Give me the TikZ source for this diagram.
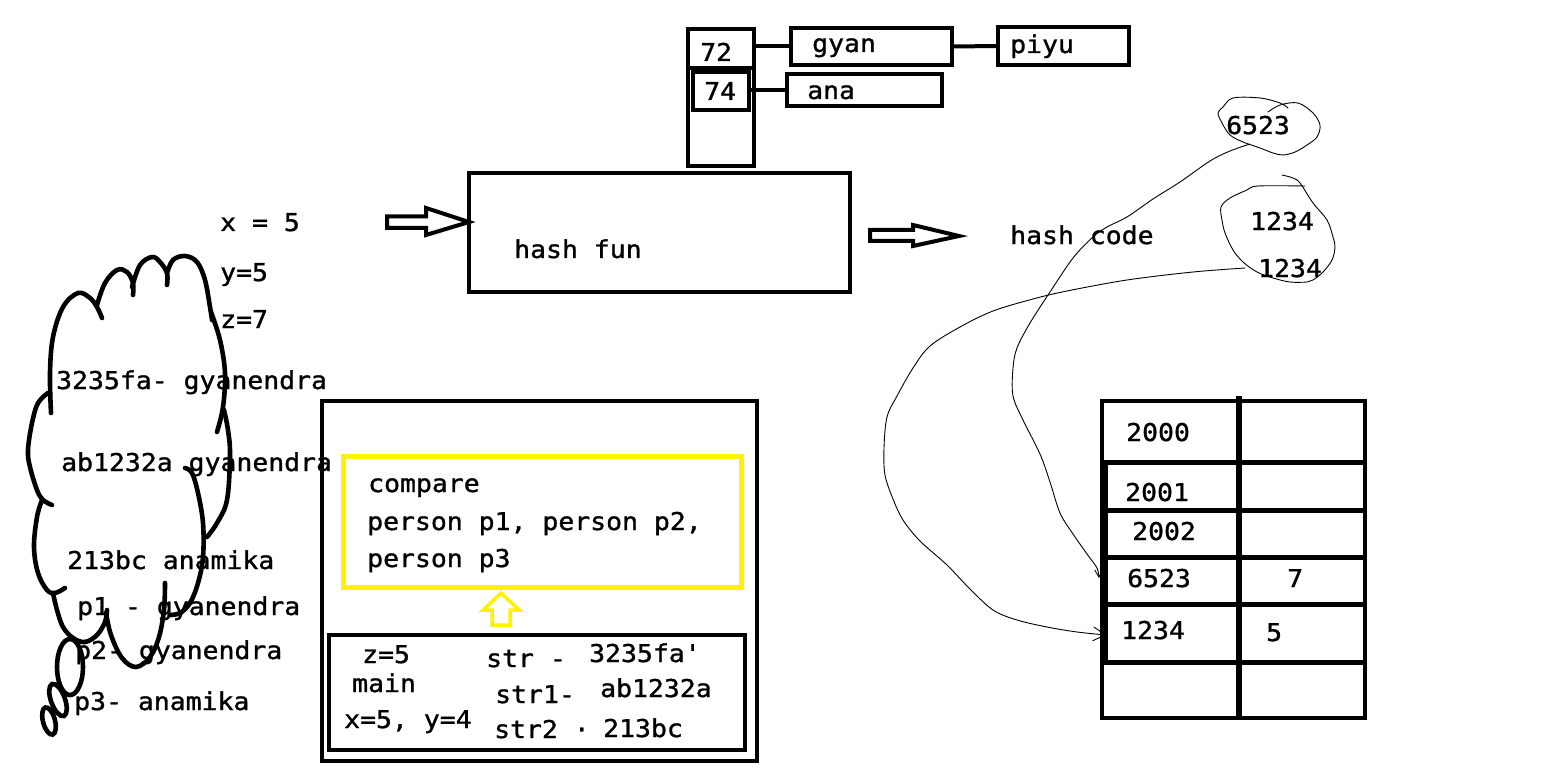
\documentclass[tikz,border=0pt]{standalone}
\usepackage{fontspec}
\newfontfamily\monofont[FakeStretch=1.08,FakeBold=1.2]{DejaVu Sans Mono}
\usetikzlibrary{arrows.meta}
\begin{document}
\begin{tikzpicture}[x=1pt,y=-1pt,
  lbl/.style={anchor=base west, inner sep=0pt, font=\monofont\fontsize{24.5}{28}\selectfont},
  box/.style={draw, line width=4.5pt, inner sep=0pt, outer sep=0pt},
  link/.style={line width=4pt},
  puff/.style={line width=4.6pt, line cap=round, smooth, tension=0.6},
  scrib/.style={line width=0.9pt, line cap=round, line join=round, smooth, tension=0.55},
  hollow/.style={line width=4pt, line join=miter, fill=white},
  grid/.style={line width=5pt}]
\useasboundingbox (0,0) rectangle (1550,778);
\fill[white] (0,0) rectangle (1550,778);

% ---------- top bucket column and chains ----------
\node[box, minimum width=66pt, minimum height=137pt] (col) at (721,97.5) {};
\draw[line width=4pt] (688,68) -- (754,68);
\node[box, minimum width=56pt, minimum height=38pt] (b74) at (721,91) {};
\node[box, minimum width=161pt, minimum height=37pt] (gyan) at (871.5,46.5) {};
\node[box, minimum width=131pt, minimum height=38pt] (piyu) at (1063.5,46) {};
\node[box, minimum width=155pt, minimum height=32pt] (ana) at (864.5,90) {};
\draw[link] (col.east |- gyan.west) -- (gyan.west);
\draw[link] (gyan.east) -- (piyu.west);
\draw[link] (b74.east |- ana.west) -- (ana.west);
\node[lbl] (t72) at (700,61) {72};
\node[lbl] (t74) at (704,100) {74};
\node[lbl] (tgyan) at (812,52) {gyan};
\node[lbl] (tpiyu) at (1010,53) {piyu};
\node[lbl] (tana) at (807,99) {ana};

% ---------- hash function ----------
\node[box, minimum width=381pt, minimum height=119pt] (hf) at (659.5,232.5) {};
\node[lbl] (thf) at (514,258) {hash fun};
\node[lbl] (tx) at (220,231) {x = 5};
\node[lbl] (ty) at (220,281) {y=5};
\node[lbl] (tz) at (220,328) {z=7};
\node[lbl] (tcode) at (1010,244) {hash code};
\draw[hollow] (387,216.5) -- (426,216.5) -- (426,208) -- (469,222) -- (426,235) -- (426,228) -- (387,228) -- cycle;
\draw[hollow] (870,230) -- (913,230) -- (913,225) -- (959,236) -- (913,246) -- (913,241) -- (870,241) -- cycle;

% ---------- thought cloud ----------
\draw[puff] plot coordinates {(51,413) (50,373) (53,337) (63,307) (78,293) (90,298) (97,307) (102,318)};
\draw[puff] plot coordinates {(97,305) (105,283) (117,270) (127,272) (133,283) (133,295)};
\draw[puff] plot coordinates {(132,287) (140,265) (152,257) (160,262) (167,273) (167,285)};
\draw[puff] plot coordinates {(167,273) (173,260) (185,256) (197,262) (205,280) (210,307) (212,320)};
\draw[puff] plot coordinates {(211,312) (220,340) (225,373) (223,407) (217,432)};
\draw[puff] plot coordinates {(224,410) (228,430) (230,455) (227,500) (217,523) (207,537)};
\draw[puff] plot coordinates {(185,468) (192,473) (198,493) (203,523) (203,557) (198,583) (190,603) (180,613) (170,615)};
\draw[puff] plot coordinates {(165,583) (164,610) (159,637) (150,657) (136,667) (122,658) (111,635) (106,613)};
\draw[puff] plot coordinates {(107,610) (105,622) (97,635) (85,642) (73,638) (63,627) (57,610) (53,593)};
\draw[puff] plot coordinates {(42,500) (37,517) (34,547) (38,573) (47,590) (55,593) (65,588)};
\draw[puff] plot coordinates {(48,393) (38,403) (32,423) (28,450) (30,467) (37,490) (43,500) (52,505)};
\draw[line width=4.6pt] (70,667) ellipse [x radius=13, y radius=28];
\draw[line width=4.6pt, rotate around={20:(58,700)}] (58,700) ellipse [x radius=7, y radius=17];
\draw[line width=4.6pt, rotate around={15:(49,721)}] (49,721) ellipse [x radius=6, y radius=14];
\node[lbl] (c1) at (56,389) {3235fa- gyanendra};
\node[lbl] (c2) at (61,471) {ab1232a gyanendra};
\node[lbl] (c3) at (67,569) {213bc anamika};
\node[lbl] (c4) at (77,615) {p1 - gyanendra};
\node[lbl] (c5) at (75,659) {p2- gyanendra};
\node[lbl] (c6) at (74,710) {p3- anamika};

% ---------- stack / compare ----------
\node[box, minimum width=435pt, minimum height=360pt] (outer) at (539.5,581) {};
\node[box, draw=yellow, line width=5pt, minimum width=398pt, minimum height=131pt] (cmp) at (542,521.5) {};
\node[box, minimum width=416pt, minimum height=115pt] (mainbox) at (537,692.5) {};
\draw[line width=3.5pt, yellow, line join=miter] (492,625) -- (492,610) -- (483,610) -- (501,593) -- (519,610) -- (510,610) -- (510,625) -- cycle;
\node[lbl] (b1) at (368,492) {compare};
\node[lbl] (b2) at (367,530) {person p1, person p2,};
\node[lbl] (b3) at (367,567) {person p3};
\node[lbl] (m1) at (362,663) {z=5};
\node[lbl] (m2) at (352,692) {main};
\node[lbl] (m3) at (344,728) {x=5, y=4};
\node[lbl] (s1) at (486,667) {str -};
\node[lbl] (s2) at (589,662) {3235fa'};
\node[lbl] (s3) at (495,703) {str1-};
\node[lbl] (s4) at (600,697) {ab1232a};
\node[lbl] (s5) at (494,738) {str2 ·};
\node[lbl] (s6) at (603,737) {213bc};

% ---------- table ----------
\node[box, minimum width=263pt, minimum height=317pt] (tbl) at (1233.5,559.5) {};
\draw[line width=6pt] (1239,396) -- (1239,718);
\foreach \yy in {462,510,557,604,662} \draw[grid] (1102,\yy) -- (1365,\yy);
\draw[line width=4pt] (1106,462) -- (1106,662);
\node[lbl] (r0) at (1126,441) {2000};
\node[lbl] (r1) at (1125,501) {2001};
\node[lbl] (r2) at (1132,540) {2002};
\node[lbl] (r3) at (1127,587) {6523};
\node[lbl] (r3v) at (1287,587) {7};
\node[lbl] (r4) at (1121,639) {1234};
\node[lbl] (r4v) at (1266,641) {5};
\coordinate (in6523) at (1099,578);
\coordinate (in1234) at (1106,635);

% ---------- hash codes ----------
\node[lbl] (h1) at (1226,134) {6523};
\node[lbl] (h2) at (1250,230) {1234};
\node[lbl] (h3) at (1258,277) {1234};
\draw[scrib] plot coordinates {(1268,112) (1280,105) (1298,103) (1313,113) (1320,125) (1317,137) (1307,145) (1295,152) (1283,155) (1273,153) (1260,148) (1243,142) (1230,135) (1222,123) (1218,113) (1223,107) (1233,98) (1260,98) (1280,103) (1288,108)};
\draw[scrib] plot coordinates {(1282,175) (1293,178) (1300,183) (1313,203) (1327,220) (1333,237) (1335,247) (1332,260) (1323,272) (1313,280) (1307,282) (1290,282) (1273,278) (1257,272) (1243,262) (1233,250) (1225,233) (1222,220) (1221,207) (1230,198) (1247,190) (1258,186) (1305,186)};
\coordinate (out6523) at (1250,144);
\coordinate (out1234) at (1245,268);
\draw[scrib, -{Straight Barb[length=7pt,width=8pt]}] plot coordinates {(out6523) (1230,151) (1210,161) (1180,182) (1153,199) (1127,217) (1107,227) (1093,237) (1073,258) (1050,292) (1030,323) (1017,348) (1013,368) (1013,396) (1023,420) (1040,454) (1050,482) (1060,513) (1073,534) (1087,554) (1097,568) (in6523)};
\draw[scrib, -{Straight Barb[length=12pt,width=14pt]}] plot coordinates {(out1234) (1193,272) (1127,280) (1067,291) (1033,299) (993,311) (960,327) (930,346) (913,368) (897,396) (887,417) (884,448) (885,475) (893,499) (903,520) (920,541) (947,565) (970,589) (993,610) (1017,620) (1047,627) (1077,632) (in1234)};
\end{tikzpicture}
\end{document}
